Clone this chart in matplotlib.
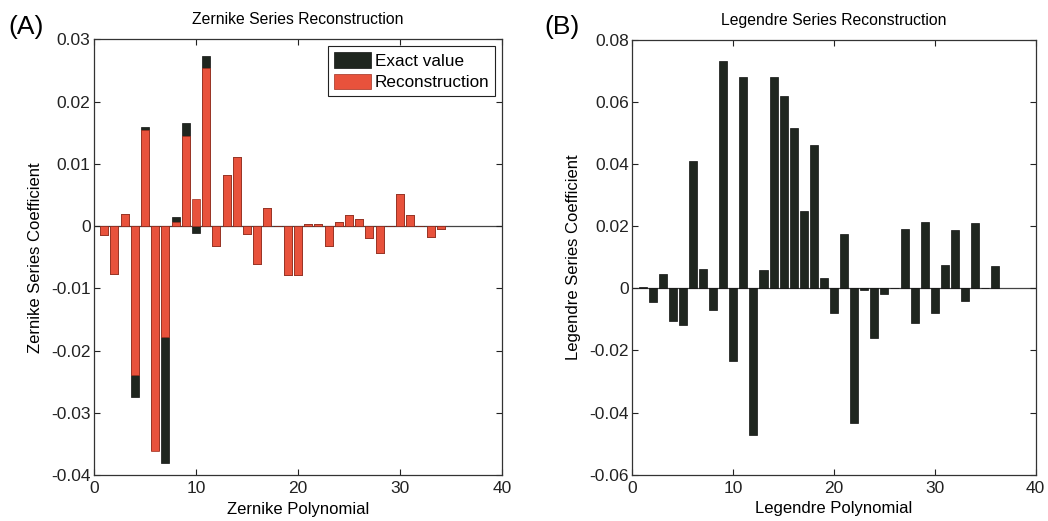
import numpy as np
import matplotlib
matplotlib.use('Agg')
from matplotlib import pyplot as plt

plt.rcParams['font.family'] = ['Liberation Sans', 'DejaVu Sans']

# Zernike coefficients, polynomial index 1..34
zern_idx = np.arange(1, 35)
zern_exact = [-0.0015, -0.0077, 0.0019, -0.0275, 0.0160, -0.0360, -0.0380, 0.0015,
              0.0166, -0.0011, 0.0273, -0.0032, 0.0082, 0.0111, -0.0013, -0.0061,
              0.0029, 0.0, -0.0078, -0.0078, 0.0004, 0.0003, -0.0032, 0.0007,
              0.0018, 0.0012, -0.0019, -0.0043, 0.0, 0.0051, 0.0018, 0.0,
              -0.0017, -0.0004]
zern_recon = [-0.0015, -0.0077, 0.0019, -0.0240, 0.0154, -0.0362, -0.0178, 0.0007,
              0.0145, 0.0043, 0.0254, -0.0032, 0.0082, 0.0111, -0.0013, -0.0061,
              0.0029, 0.0, -0.0078, -0.0078, 0.0004, 0.0003, -0.0032, 0.0007,
              0.0018, 0.0012, -0.0019, -0.0043, 0.0, 0.0051, 0.0018, 0.0,
              -0.0017, -0.0004]

# Legendre coefficients, polynomial index 1..36
leg_idx = np.arange(1, 37)
leg_coef = [0.0005, -0.0043, 0.0046, -0.0105, -0.0117, 0.0410, 0.0064, -0.0070,
            0.0732, -0.0234, 0.0681, -0.0472, 0.0059, 0.0681, 0.0620, 0.0518,
            0.0249, 0.0461, 0.0032, -0.0079, 0.0175, -0.0433, -0.0006, -0.0159,
            -0.0019, 0.0, 0.0191, -0.0113, 0.0215, -0.0080, 0.0077, 0.0188,
            -0.0041, 0.0211, 0.0, 0.0073]

dark = '#1f261f'
red = '#e8523c'

fig = plt.figure(figsize=(10.48, 5.21), dpi=100)
ax1 = fig.add_axes([0.0897, 0.0883, 0.3893, 0.836])
ax2 = fig.add_axes([0.6035, 0.089, 0.3847, 0.834])


def style(ax, ylim, yticks, ylabels):
    ax.set_xlim(0, 40)
    ax.set_ylim(*ylim)
    ax.set_xticks([0, 10, 20, 30, 40])
    ax.set_yticks(yticks)
    ax.set_yticklabels(ylabels)
    ax.tick_params(direction='in', top=True, right=True, labelsize=12.5,
                   length=4, width=0.8, colors='#222222', pad=2.5)
    ax.tick_params(axis='x', pad=4.5)
    for s in ax.spines.values():
        s.set_color('#333333')
        s.set_linewidth(0.9)
    ax.axhline(0, color='#444444', lw=0.9, zorder=1)


ax1.bar(zern_idx, zern_exact, width=0.8, color=dark, edgecolor='#111111',
        linewidth=0.5, label='Exact value', zorder=2)
ax1.bar(zern_idx, zern_recon, width=0.8, color=red, edgecolor='#a03020',
        linewidth=0.5, label='Reconstruction', zorder=3)
style(ax1, (-0.04, 0.03), np.arange(-0.04, 0.031, 0.01),
      ['-0.04', '-0.03', '-0.02', '-0.01', '0', '0.01', '0.02', '0.03'])
ax1.set_title('Zernike Series Reconstruction', fontsize=11.3, pad=11)
ax1.set_xlabel('Zernike Polynomial', fontsize=12, labelpad=4)
ax1.set_ylabel('Zernike Series Coefficient', fontsize=12, labelpad=6)
leg = ax1.legend(loc='upper right', fontsize=12.3, fancybox=False, framealpha=1,
                 edgecolor='#222222', handlelength=2.2, handleheight=1.0,
                 handletextpad=0.2, borderpad=0.35, labelspacing=0.3,
                 borderaxespad=0.4)
leg.get_frame().set_linewidth(0.8)

ax2.bar(leg_idx, leg_coef, width=0.8, color=dark, edgecolor='#111111',
        linewidth=0.5, zorder=2)
style(ax2, (-0.06, 0.08), np.arange(-0.06, 0.081, 0.02),
      ['-0.06', '-0.04', '-0.02', '0', '0.02', '0.04', '0.06', '0.08'])
ax2.set_title('Legendre Series Reconstruction', fontsize=11.3, pad=11)
ax2.set_xlabel('Legendre Polynomial', fontsize=12, labelpad=4)
ax2.set_ylabel('Legendre Series Coefficient', fontsize=12, labelpad=6)

fig.text(0.008, 0.948, '(A)', fontsize=19, va='center', ha='left')
fig.text(0.519, 0.948, '(B)', fontsize=19, va='center', ha='left')

fig.savefig('out.png', dpi=100)
